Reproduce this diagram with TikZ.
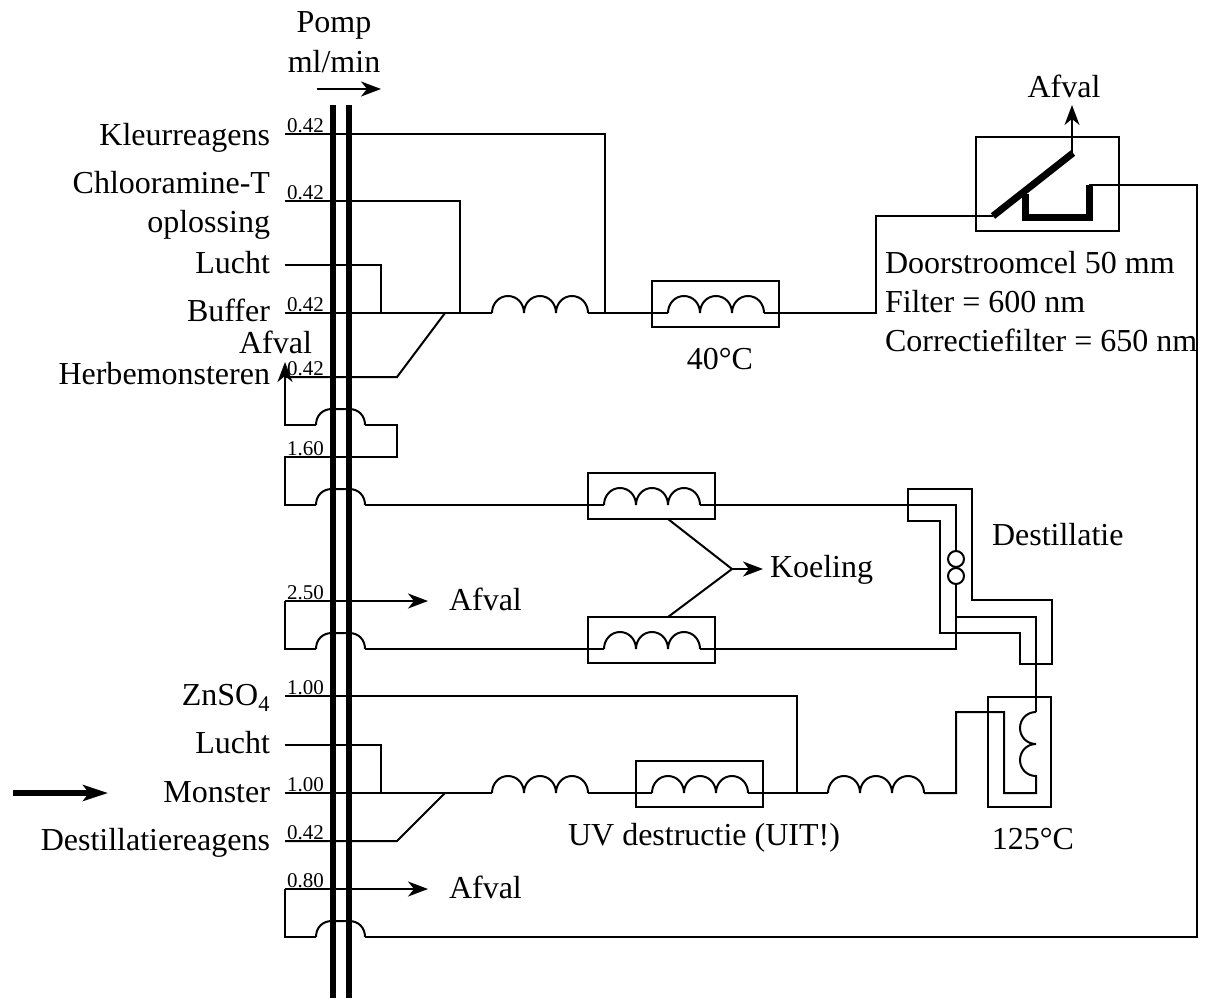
\documentclass[tikz,border=0pt]{standalone}
\usepackage{fontspec}
\setmainfont{Liberation Serif}
\usetikzlibrary{arrows.meta}
\tikzset{
  x=1pt,y=-1pt,
  pipe/.style={draw=black,line width=2pt,line join=miter},
  flow/.style={pipe,-{Stealth[length=20pt,width=15pt,inset=6pt]}},
  tube/.style={draw=black,line width=6pt},
  jacket/.style={draw=black,line width=2pt,fill=none,minimum width=#1,inner sep=0pt,outer sep=0pt},
  big/.style={font=\fontsize{32}{32}\selectfont,inner sep=0pt,outer sep=0pt},
  lab/.style={big,anchor=base east},
  txt/.style={big,anchor=base west},
  mid/.style={big,anchor=base},
  rate/.style={font=\fontsize{21}{21}\selectfont,inner sep=0pt,outer sep=0pt,anchor=base west},
  coil/.pic={\draw[pipe] (0,0)
    .. controls +(0,-9.5) and +(-9,0) .. ++(16,-17)
    .. controls +(9,0) and +(0,-9.5) .. ++(16,17)
    .. controls +(0,-9.5) and +(-9,0) .. ++(16,-17)
    .. controls +(9,0) and +(0,-9.5) .. ++(16,17)
    .. controls +(0,-9.5) and +(-9,0) .. ++(16,-17)
    .. controls +(9,0) and +(0,-9.5) .. ++(16,17);},
  hump/.pic={\draw[pipe] (0,0)
    .. controls +(0,-9) and +(-10,0) .. ++(16,-16) -- ++(17,0)
    .. controls +(10,0) and +(0,-9) .. ++(16,16);}
}
\begin{document}
\begin{tikzpicture}
\useasboundingbox (0,0) rectangle (1206,998);
% boxes
\node[jacket=127pt,minimum height=46pt,draw] (oven) at (715.5,304) {};
\node[jacket=127pt,minimum height=46pt,draw] (koelA) at (651.5,496) {};
\node[jacket=127pt,minimum height=46pt,draw] (koelB) at (651.5,640) {};
\node[jacket=127pt,minimum height=46pt,draw] (uv) at (699.5,784) {};
\node[jacket=63pt,minimum height=110pt,draw] (heat) at (1019.5,752) {};
\node[jacket=143pt,minimum height=94pt,draw] (cell) at (1047.5,184) {};
% coordinates
\coordinate (kS) at (285,134); \coordinate (kE) at (605,313);
\coordinate (cS) at (285,201); \coordinate (cE) at (460,313);
\coordinate (lS) at (285,265); \coordinate (lE) at (381,313);
\coordinate (bS) at (285,313); \coordinate (coilA) at (492,313);
\coordinate (coilAe) at (588,313); \coordinate (coilB) at (668,313);
\coordinate (coilBe) at (764,313);
\coordinate (hS) at (285,377); \coordinate (hE) at (445,313);
\coordinate (wS) at (285,425); \coordinate (hpA) at (316,425); \coordinate (hpAe) at (365,425);
\coordinate (rS) at (285,457); \coordinate (rT) at (397,457);
\coordinate (dS) at (285,505); \coordinate (hpB) at (316,505); \coordinate (hpBe) at (365,505);
\coordinate (coilC) at (604,505); \coordinate (coilCe) at (700,505);
\coordinate (aS) at (285,601); \coordinate (aE) at (428,601);
\coordinate (eS) at (285,649); \coordinate (hpC) at (316,649); \coordinate (hpCe) at (365,649);
\coordinate (coilD) at (604,649); \coordinate (coilDe) at (700,649);
\coordinate (zS) at (285,696); \coordinate (zE) at (797,793);
\coordinate (l2S) at (285,745); \coordinate (l2E) at (381,793);
\coordinate (mS) at (285,793); \coordinate (coilE) at (492,793); \coordinate (coilEe) at (588,793);
\coordinate (coilF) at (652,793); \coordinate (coilFe) at (748,793);
\coordinate (coilG) at (828,793); \coordinate (coilGe) at (924,793);
\coordinate (dtS) at (285,841); \coordinate (dtE) at (445,793);
\coordinate (fS) at (285,889); \coordinate (fE) at (428,889);
\coordinate (gS) at (285,937); \coordinate (hpD) at (316,937); \coordinate (hpDe) at (365,937);
\coordinate (cA) at (993,216); \coordinate (cB) at (1073,153); \coordinate (cC) at (1089,185);
\coordinate (cU) at (1025,194); \coordinate (wasteTip) at (1072,105);
\coordinate (kJ) at (732,569); \coordinate (bigS) at (13,793); \coordinate (bigE) at (108,793);
\coordinate (pS) at (317,89); \coordinate (pE) at (381,89);
\coordinate (kA) at (668,519); \coordinate (kB) at (668,617);
% front block
\draw[pipe] (kS) -- (605,134) -- (kE);
\draw[pipe] (cS) -- (460,201) -- (cE);
\draw[pipe] (lS) -- (381,265) -- (lE);
\draw[pipe] (bS) -- (coilA);
\pic at (coilA) {coil};
\draw[pipe] (coilAe) -- (coilB);
\pic at (coilB) {coil};
\draw[pipe] (coilBe) -- (876,313) -- (876,216) -- (cA);
\draw[pipe] (hS) -- (397,377) -- (hE);
% recycle and wash
\draw[flow] (hpA) -- (wS) -- (285,362);
\pic at (hpA) {hump};
\draw[pipe] (hpAe) -- (397,425) -- (rT) -- (rS) -- (dS) -- (hpB);
\pic at (hpB) {hump};
\draw[pipe] (hpBe) -- (coilC);
\pic at (coilC) {coil};
\draw[pipe] (coilCe) -- (956,505) -- (956,551);
\draw[flow] (aS) -- (aE);
\draw[pipe] (aS) -- (eS) -- (hpC);
\pic at (hpC) {hump};
\draw[pipe] (hpCe) -- (coilD);
\pic at (coilD) {coil};
\draw[pipe] (coilDe) -- (956,649) -- (956,584);
% cooling
\draw[pipe] (kA) -- (kJ) -- (kB);
\draw[flow] (kJ) -- (763,569);
% distillation
\draw[pipe] (908,489) -- (972,489) -- (972,600) -- (1052,600) -- (1052,664) -- (1020,664) -- (1020,633) -- (940,633) -- (940,521) -- (908,521) -- cycle;
\draw[pipe] (956,559) circle[radius=8pt];
\draw[pipe] (956,576) circle[radius=8pt];
\draw[pipe] (956,617) -- (1036,617) -- (1036,712);
\draw[pipe] (1036,712)
  .. controls +(-9,0) and +(0,-9) .. ++(-16,16)
  .. controls +(0,9) and +(-9,0) .. ++(16,16)
  .. controls +(-9,0) and +(0,-9) .. ++(-16,16)
  .. controls +(0,9) and +(-9,0) .. ++(16,16)
  -- (1036,793) -- (1004,793) -- (1004,712) -- (956,712) -- (956,793) -- (coilGe);
% bottom block
\draw[pipe] (zS) -- (797,696) -- (zE);
\draw[pipe] (l2S) -- (381,745) -- (l2E);
\draw[pipe] (mS) -- (coilE);
\pic at (coilE) {coil};
\draw[pipe] (coilEe) -- (coilF);
\pic at (coilF) {coil};
\draw[pipe] (coilFe) -- (coilG);
\pic at (coilG) {coil};
\draw[pipe] (dtS) -- (397,841) -- (dtE);
\draw[flow] (fS) -- (fE);
\draw[pipe] (fS) -- (gS) -- (hpD);
\pic at (hpD) {hump};
\draw[pipe] (hpDe) -- (1197,937) -- (1197,185) -- (cC);
% flow cell
\draw[draw=black,line width=7pt] (cA) -- (cB);
\draw[draw=black,line width=7pt,line join=miter] (cU) -- (1025,217) -- (1089,217) -- (cC);
\draw[flow] (1072,153) -- (wasteTip);
% tubes on top
\coordinate (t1a) at (333,105); \coordinate (t1b) at (333,998);
\coordinate (t2a) at (349,105); \coordinate (t2b) at (349,998);
\draw[tube] (t1a) -- (t1b);
\draw[tube] (t2a) -- (t2b);
\draw[flow] (pS) -- (pE);
\draw[draw=black,line width=6pt,-{Stealth[length=25pt,width=16pt,inset=6pt]}] (bigS) -- (bigE);
% labels
\node[mid] (tPomp) at (334,33) {Pomp};
\node[mid] (tMl) at (334,72) {ml/min};
\node[lab] (t1) at (270,145) {Kleurreagens};
\node[lab] (t2) at (270,193) {Chlooramine-T};
\node[lab] (t3) at (270,232) {oplossing};
\node[lab] (t4) at (270,273) {Lucht};
\node[lab] (t5) at (270,321) {Buffer};
\node[lab] (t6) at (312,353) {Afval};
\node[lab] (t7) at (270,384) {Herbemonsteren};
\node[lab] (t8) at (270,705) {ZnSO\textsubscript{4}};
\node[lab] (t9) at (270,753) {Lucht};
\node[lab] (t10) at (270,802) {Monster};
\node[lab] (t11) at (270,850) {Destillatiereagens};
\node[mid] (t12) at (1064,97) {Afval};
\node[txt] (t13) at (885,273) {Doorstroomcel 50 mm};
\node[txt] (t14) at (885,312) {Filter = 600 nm};
\node[txt] (t15) at (885,351) {Correctiefilter = 650 nm};
\node[mid] (t16) at (720,369) {40°C};
\node[txt] (t17) at (770,577) {Koeling};
\node[txt] (t18) at (449,610) {Afval};
\node[txt] (t19) at (992,545) {Destillatie};
\node[mid] (t20) at (704,845) {UV destructie (UIT!)};
\node[mid] (t21) at (1033,849) {125°C};
\node[txt] (t22) at (449,898) {Afval};
\node[rate] at (287,132) {0.42};
\node[rate] at (287,199) {0.42};
\node[rate] at (287,311) {0.42};
\node[rate] at (287,375) {0.42};
\node[rate] at (287,455) {1.60};
\node[rate] at (287,599) {2.50};
\node[rate] at (287,694) {1.00};
\node[rate] at (287,791) {1.00};
\node[rate] at (287,839) {0.42};
\node[rate] at (287,887) {0.80};
\end{tikzpicture}
\end{document}
